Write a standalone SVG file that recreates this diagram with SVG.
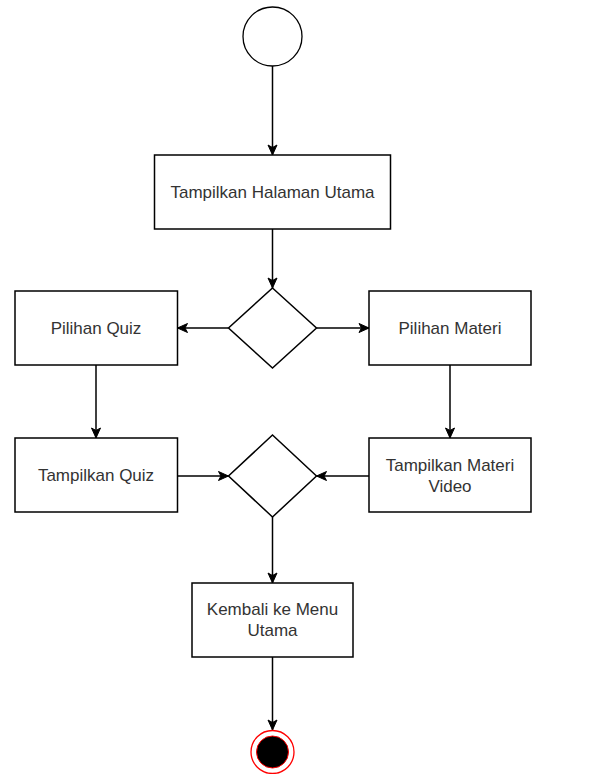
<svg xmlns="http://www.w3.org/2000/svg" width="610" height="774" viewBox="0 0 610 774">
<style>
.box{fill:#fff;stroke:#000;stroke-width:1.5}
.dia{fill:#fff;stroke:#000;stroke-width:1.5}
.lbl{font-family:"Liberation Sans",Arial,sans-serif;font-size:17px;fill:#333;text-anchor:middle}
.edge{fill:none;stroke:#000;stroke-width:1.5;marker-end:url(#arr)}
</style>
<defs>
<marker id="arr" markerUnits="userSpaceOnUse" markerWidth="12" markerHeight="12" viewBox="0 0 12 12" refX="11" refY="6" orient="auto">
<path d="M1,1.5 L11,6 L1,10.5 L3.5,6 z" fill="#000" stroke="#000" stroke-width="1"/>
</marker>
</defs>
<rect width="610" height="774" fill="#fff"/>
<g id="connectors">
<path class="edge" d="M272.5,66 L272.5,155"/>
<path class="edge" d="M272.5,229 L272.5,288"/>
<path class="edge" d="M228.5,328 L177.5,328"/>
<path class="edge" d="M316.5,328 L369,328"/>
<path class="edge" d="M96,365 L96,438"/>
<path class="edge" d="M450,365 L450,438"/>
<path class="edge" d="M177.5,476 L228.5,476"/>
<path class="edge" d="M369,476 L316.5,476"/>
<path class="edge" d="M272.5,517 L272.5,583"/>
<path class="edge" d="M272.5,657 L272.5,730"/>
</g>
<g id="start"><circle cx="272.5" cy="36.5" r="29.5" fill="#fff" stroke="#000" stroke-width="1.3"/></g>
<g id="halaman-utama"><rect class="box" x="154.5" y="155" width="236" height="74"/><text class="lbl" x="272.5" y="198">Tampilkan Halaman Utama</text></g>
<g id="decision1"><polygon class="dia" points="272.5,288 316.5,328 272.5,368 228.5,328"/></g>
<g id="pilihan-quiz"><rect class="box" x="15" y="291" width="162.5" height="74"/><text class="lbl" x="96" y="334">Pilihan Quiz</text></g>
<g id="pilihan-materi"><rect class="box" x="369" y="291" width="162" height="74"/><text class="lbl" x="450" y="334">Pilihan Materi</text></g>
<g id="tampilkan-quiz"><rect class="box" x="15" y="438" width="162.5" height="74"/><text class="lbl" x="96" y="481">Tampilkan Quiz</text></g>
<g id="tampilkan-materi"><rect class="box" x="369" y="438" width="162" height="74"/><text class="lbl" x="450" y="471">Tampilkan Materi</text><text class="lbl" x="450" y="492">Video</text></g>
<g id="decision2"><polygon class="dia" points="272.5,435 316.5,476 272.5,517 228.5,476"/></g>
<g id="kembali"><rect class="box" x="192" y="583" width="161" height="74"/><text class="lbl" x="272.5" y="615">Kembali ke Menu</text><text class="lbl" x="272.5" y="636">Utama</text></g>
<g id="end"><circle cx="272.5" cy="752" r="21.5" fill="#fff" stroke="#f00" stroke-width="1.3"/><circle cx="272.5" cy="752" r="16" fill="#000" stroke="#f00" stroke-width="1"/></g>
</svg>
